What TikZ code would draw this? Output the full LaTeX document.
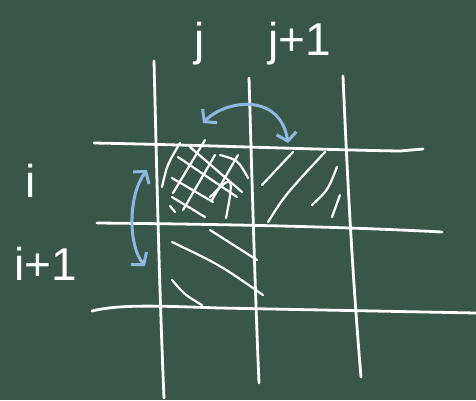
\documentclass[tikz,border=0pt]{standalone}
\usepackage{fontspec}
\setmainfont{Liberation Sans}
\usetikzlibrary{arrows.meta}
\definecolor{board}{RGB}{56,87,72}
\definecolor{chalkblue}{RGB}{141,184,227}
\begin{document}
\begin{tikzpicture}[x=1pt,y=-1pt,
  grid/.style={white,line width=2.8pt,line cap=round},
  hatch/.style={white,line width=2.2pt,line cap=round},
  swap/.style={chalkblue,line width=3pt,line cap=round,
    {Straight Barb[length=8pt,width=20pt,line width=3pt]}-{Straight Barb[length=8pt,width=20pt,line width=3pt]}},
  lbl/.style={white,font=\fontsize{46}{46}\selectfont,inner sep=0pt,anchor=base}]
\fill[board] (0,0) rectangle (476,400);
\useasboundingbox (0,0) rectangle (476,400);
% vertical grid lines
\draw[grid] (154,61) .. controls (157,180) and (159,280) .. (164,398);
\draw[grid] (249,78) .. controls (252,180) and (255,290) .. (259,383);
\draw[grid] (343,76) .. controls (347,170) and (352,270) .. (361,377);
% horizontal grid lines
\draw[grid] (94,143) .. controls (200,145) and (330,150) .. (400,151) -- (423,149);
\draw[grid] (97,223) .. controls (200,224) and (330,226) .. (442,232);
\draw[grid] (92,311) .. controls (120,304) and (160,306) .. (220,308) -- (476,313);
% labels
\node[lbl] (lj) at (200,55) {j};
\node[lbl] (lj1) at (300,55) {j+1};
\node[lbl] (li) at (31,197) {i};
\node[lbl] (li1) at (46,280) {i+1};
% cross-hatching in cell (i,j)
\draw[hatch] (162,187) .. controls (167,165) .. (180,143);
\draw[hatch] (173,193) -- (205,140);
\draw[hatch] (183,210) -- (215,155);
\draw[hatch] (212,200) -- (238,155);
\draw[hatch] (210,197) .. controls (230,178) and (236,168) .. (226,218);
\draw[hatch] (178,157) -- (237,197);
\draw[hatch] (190,147) -- (242,192);
\draw[hatch] (220,155) .. controls (238,160) .. (248,178);
\draw[hatch] (172,178) -- (213,202);
\draw[hatch] (172,197) -- (205,217);
\draw[hatch] (170,206) -- (175,212);
% hatching in cell (i,j+1)
\draw[hatch] (262,185) -- (293,152);
\draw[hatch] (268,222) .. controls (285,195) .. (325,152);
\draw[hatch] (312,205) .. controls (328,190) .. (337,167);
\draw[hatch] (332,217) -- (340,195);
% hatching in cell (i+1,j)
\draw[hatch] (210,230) -- (257,260);
\draw[hatch] (172,242) .. controls (220,265) .. (263,295);
\draw[hatch] (172,280) .. controls (185,295) .. (202,305);
% swap arrows
\draw[swap] (203,123) .. controls (225,100) and (280,92) .. (288,143);
\draw[swap] (147,170) .. controls (128,195) and (128,245) .. (145,266);
\end{tikzpicture}
\end{document}
